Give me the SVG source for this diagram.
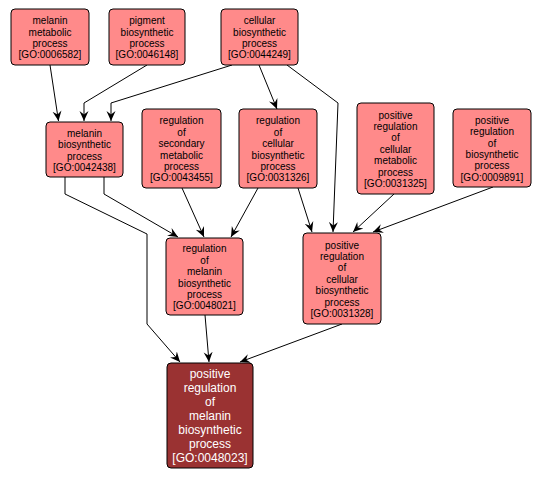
<svg xmlns="http://www.w3.org/2000/svg" width="543" height="480" viewBox="0 0 543 480">
<defs>
<style>
.n rect{fill:#ff8a8a;stroke:#000;stroke-width:1}
.n text{font-family:"Liberation Sans",Arial,sans-serif;font-size:10px;text-anchor:middle;fill:#000}
.d rect{fill:#9a3232;stroke:#000;stroke-width:1}
.d text{font-family:"Liberation Sans",Arial,sans-serif;font-size:12px;text-anchor:middle;fill:#fff}
.e path{fill:none;stroke:#000;stroke-width:1;marker-end:url(#a)}
</style>
<marker id="a" markerUnits="userSpaceOnUse" markerWidth="12" markerHeight="12" viewBox="-10 -6 12 12" refX="0" refY="0" orient="auto">
<path d="M0,0 L-10,-4.5 L-6.5,0 L-10,4.5 Z" fill="#000"/>
</marker>
</defs>
<rect width="543" height="480" fill="#fff"/>
<g class="e" id="edges">
<path d="M50,65 L58.5,121"/>
<path d="M147,65 L84,103 L84,121"/>
<path d="M232,65 L111,103 L111,121"/>
<path d="M259,65 L277,109"/>
<path d="M287,65 L338,103 L333,232"/>
<path d="M65,177 L65,194 L147,234 L147,324 L180,362"/>
<path d="M104,177 L104,194 L178,237"/>
<path d="M182,188 L204,237"/>
<path d="M258,188 L231,237"/>
<path d="M298,188 L312,232"/>
<path d="M394,194 L353,232"/>
<path d="M493,187 L373,232"/>
<path d="M205,315 L209,362"/>
<path d="M342,324 L240,362"/>
</g>
<g class="n" id="n1"><rect x="11" y="9" width="78" height="56" rx="4"/>
<text x="50" y="24.2">melanin</text><text x="50" y="35.6">metabolic</text><text x="50" y="47">process</text><text x="50" y="58.4">[GO:0006582]</text></g>
<g class="n" id="n2"><rect x="109" y="9" width="76" height="56" rx="4"/>
<text x="147" y="24.2">pigment</text><text x="147" y="35.6">biosynthetic</text><text x="147" y="47">process</text><text x="147" y="58.4">[GO:0046148]</text></g>
<g class="n" id="n3"><rect x="221" y="9" width="77" height="56" rx="4"/>
<text x="259.5" y="24.2">cellular</text><text x="259.5" y="35.6">biosynthetic</text><text x="259.5" y="47">process</text><text x="259.5" y="58.4">[GO:0044249]</text></g>
<g class="n" id="n4"><rect x="46" y="122" width="77" height="55" rx="4"/>
<text x="84.5" y="136.7">melanin</text><text x="84.5" y="148.1">biosynthetic</text><text x="84.5" y="159.5">process</text><text x="84.5" y="170.9">[GO:0042438]</text></g>
<g class="n" id="n5"><rect x="142" y="109" width="79" height="79" rx="4"/>
<text x="181.5" y="124.3">regulation</text><text x="181.5" y="135.7">of</text><text x="181.5" y="147.1">secondary</text><text x="181.5" y="158.5">metabolic</text><text x="181.5" y="169.9">process</text><text x="181.5" y="181.3">[GO:0043455]</text></g>
<g class="n" id="n6"><rect x="239" y="109" width="78" height="79" rx="4"/>
<text x="278" y="124.3">regulation</text><text x="278" y="135.7">of</text><text x="278" y="147.1">cellular</text><text x="278" y="158.5">biosynthetic</text><text x="278" y="169.9">process</text><text x="278" y="181.3">[GO:0031326]</text></g>
<g class="n" id="n7"><rect x="357" y="103" width="77" height="91" rx="4"/>
<text x="395.5" y="118.6">positive</text><text x="395.5" y="130">regulation</text><text x="395.5" y="141.4">of</text><text x="395.5" y="152.8">cellular</text><text x="395.5" y="164.2">metabolic</text><text x="395.5" y="175.6">process</text><text x="395.5" y="187">[GO:0031325]</text></g>
<g class="n" id="n8"><rect x="453" y="109" width="78" height="78" rx="4"/>
<text x="492" y="123.8">positive</text><text x="492" y="135.2">regulation</text><text x="492" y="146.6">of</text><text x="492" y="158">biosynthetic</text><text x="492" y="169.4">process</text><text x="492" y="180.8">[GO:0009891]</text></g>
<g class="n" id="n9"><rect x="166" y="238" width="77" height="77" rx="4"/>
<text x="204.5" y="252.3">regulation</text><text x="204.5" y="263.7">of</text><text x="204.5" y="275.1">melanin</text><text x="204.5" y="286.5">biosynthetic</text><text x="204.5" y="297.9">process</text><text x="204.5" y="309.3">[GO:0048021]</text></g>
<g class="n" id="n10"><rect x="303" y="233" width="78" height="91" rx="4"/>
<text x="342" y="248.6">positive</text><text x="342" y="260">regulation</text><text x="342" y="271.4">of</text><text x="342" y="282.8">cellular</text><text x="342" y="294.2">biosynthetic</text><text x="342" y="305.6">process</text><text x="342" y="317">[GO:0031328]</text></g>
<g class="d" id="n11"><rect x="167" y="363" width="86" height="105" rx="4"/>
<text x="210" y="378">positive</text><text x="210" y="392">regulation</text><text x="210" y="406">of</text><text x="210" y="420">melanin</text><text x="210" y="434">biosynthetic</text><text x="210" y="448">process</text><text x="210" y="462">[GO:0048023]</text></g>
</svg>
